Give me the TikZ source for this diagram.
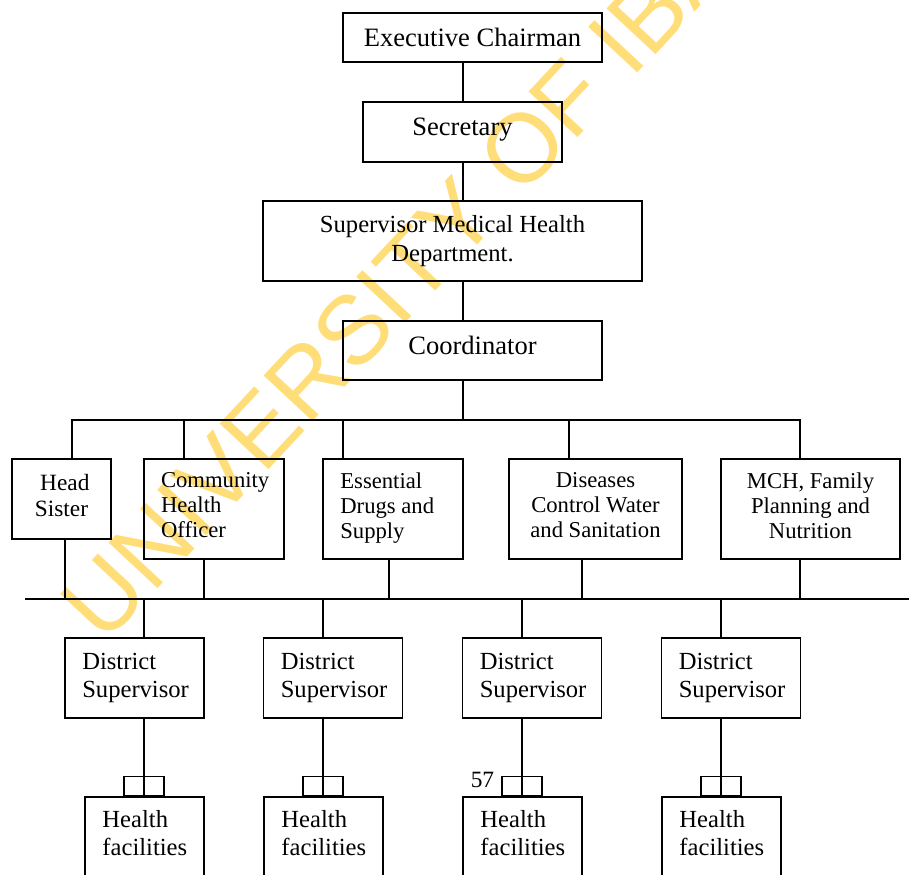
\documentclass[tikz,border=0pt]{standalone}
\usepackage{fontspec}
\setmainfont{Liberation Serif}
\newfontfamily\wmfont{Liberation Sans}
\usetikzlibrary{calc}
\definecolor{wmyellow}{RGB}{255,222,122}
\begin{document}
\begin{tikzpicture}[x=0.75pt,y=-0.75pt,
  line width=1.2pt,
  box/.style={draw, rectangle, line width=1.2pt, inner sep=0pt},
  bigfont/.style={font=\fontsize{19.9}{22.9}\selectfont},
  midfont/.style={font=\fontsize{18.45}{21.2}\selectfont},
  smallfont/.style={font=\fontsize{17}{18.75}\selectfont},
  txt/.style={inner sep=0pt, align=left, anchor=west},
  tab/.style={draw, rectangle, line width=1.2pt, inner sep=0pt, minimum width=30pt, minimum height=14.25pt, anchor=south},
  wm/.style={text=wmyellow, inner sep=0pt, font=\wmfont\fontsize{73}{80}\selectfont}
]
\useasboundingbox (0,0) rectangle (909,874);
\clip (0,0) rectangle (909,874);

% watermark
\node[wm, rotate=47, anchor=base west] (wmark) at (104,646) {UNIVERSITY OF IBADAN};

% top chain
\node[box, bigfont, minimum width=194.25pt, minimum height=36.75pt] (exec) at (472.5,37.5) {Executive Chairman};
\node[box, bigfont, minimum width=149.25pt, minimum height=45pt, text height=13.6pt, text depth=8pt] (sec) at (462.5,132) {Secretary};
\node[box, midfont, align=center, minimum width=284.25pt, minimum height=60pt] (smh) at (452.5,241) {Supervisor Medical Health\\Department.};
\node[box, bigfont, minimum width=194.25pt, minimum height=44.25pt, text height=13.6pt, text depth=8pt] (coord) at (472.5,350.5) {Coordinator};

% second row
\node[box, font=\fontsize{17.5}{19.5}\selectfont, align=center, minimum width=74.25pt, minimum height=60pt] (head) at (61.5,499) {\hspace*{5pt}Head\\Sister\strut};
\node[box, minimum width=105pt, minimum height=75pt] (cho) at (214,509) {};
\node[txt, smallfont] (chot) at ([xshift=12.75pt]cho.west) {Community\\Health\\Officer\strut};
\node[box, minimum width=105pt, minimum height=75pt] (eds) at (393,509) {};
\node[txt, smallfont] (edst) at ([xshift=13pt]eds.west) {Essential\\Drugs and\\Supply\strut};
\node[box, smallfont, align=center, minimum width=129.75pt, minimum height=75pt] (dcw) at (595.5,509) {Diseases\\Control Water\\and Sanitation\strut};
\node[box, smallfont, align=center, minimum width=134.25pt, minimum height=75pt] (mch) at (810.5,509) {MCH, Family\\Planning and\\Nutrition\strut};

% district supervisors
\node[box, minimum width=104.5pt, minimum height=60pt] (ds1) at (134.5,678) {};
\node[txt, midfont] (ds1t) at ([xshift=13.1pt]ds1.west) {District\\Supervisor};
\node[box, minimum width=104.5pt, minimum height=60pt] (ds2) at (333,678) {};
\node[txt, midfont] (ds2t) at ([xshift=13.1pt]ds2.west) {District\\Supervisor};
\node[box, minimum width=104.5pt, minimum height=60pt] (ds3) at (532,678) {};
\node[txt, midfont] (ds3t) at ([xshift=13.1pt]ds3.west) {District\\Supervisor};
\node[box, minimum width=104.5pt, minimum height=60pt] (ds4) at (731,678) {};
\node[txt, midfont] (ds4t) at ([xshift=13.1pt]ds4.west) {District\\Supervisor};

% health facilities
\node[box, minimum width=89.25pt, minimum height=60pt] (hf1) at (144.5,837) {};
\node[txt, midfont] (hf1t) at ([xshift=13.1pt]hf1.west) {Health\\facilities\strut};
\node[box, minimum width=89.25pt, minimum height=60pt] (hf2) at (323.5,837) {};
\node[txt, midfont] (hf2t) at ([xshift=13.1pt]hf2.west) {Health\\facilities\strut};
\node[box, minimum width=89.25pt, minimum height=60pt] (hf3) at (522.5,837) {};
\node[txt, midfont] (hf3t) at ([xshift=13.1pt]hf3.west) {Health\\facilities\strut};
\node[box, minimum width=89.25pt, minimum height=60pt] (hf4) at (721.5,837) {};
\node[txt, midfont] (hf4t) at ([xshift=13.1pt]hf4.west) {Health\\facilities\strut};

% page number
\node[font=\fontsize{17.5}{20}\selectfont, inner sep=0pt, anchor=base west] (pg) at (470,787) {57};

% spine
\coordinate (sp) at (463,0);
\draw (exec.south -| sp) -- (sec.north -| sp);
\draw (sec.south -| sp) -- (smh.north -| sp);
\draw (smh.south -| sp) -- (coord.north -| sp);
\coordinate (b1) at (463,420);
\draw (coord.south -| sp) -- (b1);

% upper bus
\coordinate (b1l) at (72,420);
\coordinate (b1r) at (800,420);
\coordinate (d2) at (184,420);
\coordinate (d3) at (343,420);
\coordinate (d4) at (569,420);
\draw (b1l |- head.north) -- (b1l) -- (b1r) -- (b1r |- mch.north);
\draw (d2) -- (d2 |- cho.north);
\draw (d3) -- (d3 |- eds.north);
\draw (d4) -- (d4 |- dcw.north);

% lower bus
\coordinate (b2l) at (25,599);
\coordinate (b2r) at (909,599);
\draw (b2l) -- (b2r);
\coordinate (u1) at (65,599);
\coordinate (u2) at (204,599);
\coordinate (u3) at (389,599);
\coordinate (u4) at (582,599);
\coordinate (u5) at (800,599);
\draw (u1 |- head.south) -- (u1);
\draw (u2 |- cho.south) -- (u2);
\draw (u3 |- eds.south) -- (u3);
\draw (u4 |- dcw.south) -- (u4);
\draw (u5 |- mch.south) -- (u5);

% down to district supervisors and facilities
\coordinate (v1) at (144,599);
\coordinate (v2) at (323,599);
\coordinate (v3) at (522,599);
\coordinate (v4) at (721,599);
\draw (v1) -- (v1 |- ds1.north);
\draw (v2) -- (v2 |- ds2.north);
\draw (v3) -- (v3 |- ds3.north);
\draw (v4) -- (v4 |- ds4.north);
\draw (v1 |- ds1.south) -- (v1 |- hf1.north);
\draw (v2 |- ds2.south) -- (v2 |- hf2.north);
\draw (v3 |- ds3.south) -- (v3 |- hf3.north);
\draw (v4 |- ds4.south) -- (v4 |- hf4.north);
\node[tab] (tab1) at (v1 |- hf1.north) {};
\node[tab] (tab2) at (v2 |- hf2.north) {};
\node[tab] (tab3) at (v3 |- hf3.north) {};
\node[tab] (tab4) at (v4 |- hf4.north) {};
\end{tikzpicture}
\end{document}
